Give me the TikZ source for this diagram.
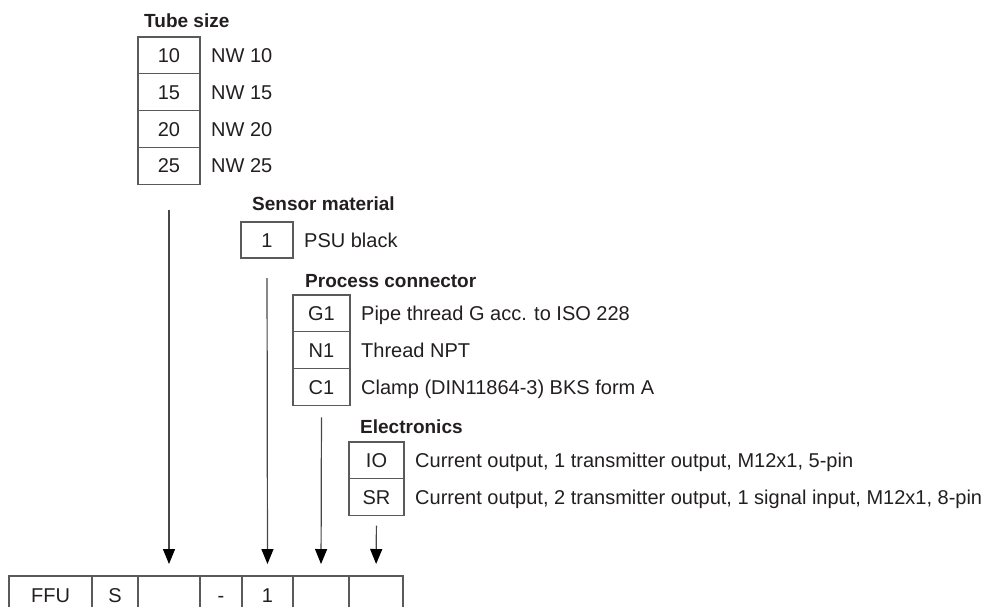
\documentclass[tikz,border=0pt]{standalone}
\usepackage{fontspec}
\setmainfont{Liberation Sans}
\usetikzlibrary{positioning,arrows.meta}
\definecolor{framegray}{HTML}{5A5A5A}
\definecolor{inkdark}{HTML}{231F20}
\tikzset{
	codebox/.style={draw=framegray, line width=1.1pt, inner sep=0pt, outer sep=0pt, minimum height=36.8pt, text height=14pt, text depth=0pt, text=inkdark, font=\fontsize{20}{24}\selectfont},
	optlabel/.style={anchor=west, inner sep=0pt, text height=14pt, text depth=0pt, text=inkdark, font=\fontsize{20}{24}\selectfont},
	heading/.style={anchor=base west, inner sep=0pt, text=inkdark, font=\fontsize{19}{23}\selectfont\bfseries},
	feed/.style={draw=black!72, line width=1.2pt, -{Triangle[length=15pt,width=12pt,color=black]}},
}

\begin{document}
\begin{tikzpicture}[x=1pt, y=-1pt]
			%%%%% START %%%%%
			\clip (0, 0) rectangle (1008, 606);
			
			% tube size
			\node[heading] (headTube) at (144, 27) {Tube size};
			\node[codebox, minimum width=62pt, anchor=north west] (tube1) at (138, 37) {10};
			\node[codebox, minimum width=62pt, below=0pt of tube1] (tube2) {15};
			\node[codebox, minimum width=62pt, below=0pt of tube2] (tube3) {20};
			\node[codebox, minimum width=62pt, below=0pt of tube3] (tube4) {25};
			\node[optlabel, right=11pt of tube1] (tubeText1) {NW 10};
			\node[optlabel, right=11pt of tube2] (tubeText2) {NW 15};
			\node[optlabel, right=11pt of tube3] (tubeText3) {NW 20};
			\node[optlabel, right=11pt of tube4] (tubeText4) {NW 25};
			
			% sensor material
			\node[heading] (headSensor) at (252, 210) {Sensor material};
			\node[codebox, minimum width=52pt, minimum height=36pt, anchor=north west] (sensor1) at (241, 222) {1};
			\node[optlabel, right=11pt of sensor1] (sensorText1) {PSU black};
			
			% process connector
			\node[heading] (headProcess) at (305, 287) {Process connector};
			\node[codebox, minimum width=57pt, anchor=north west] (proc1) at (293, 295) {G1};
			\node[codebox, minimum width=57pt, below=0pt of proc1] (proc2) {N1};
			\node[codebox, minimum width=57pt, below=0pt of proc2] (proc3) {C1};
			\node[optlabel, right=11pt of proc1] (procText1) {Pipe thread G acc. to ISO 228};
			\node[optlabel, right=11pt of proc2] (procText2) {Thread NPT};
			\node[optlabel, right=11pt of proc3] (procText3) {Clamp (DIN11864-3) BKS form A};
			
			% electronics
			\node[heading] (headElec) at (360, 433) {Electronics};
			\node[codebox, minimum width=55pt, anchor=north west] (elec1) at (349, 442) {IO};
			\node[codebox, minimum width=55pt, below=0pt of elec1] (elec2) {SR};
			\node[optlabel, right=11pt of elec1] (elecText1) {Current output, 1 transmitter output, M12x1, 5-pin};
			\node[optlabel, right=11pt of elec2] (elecText2) {Current output, 2 transmitter output, 1 signal input, M12x1, 8-pin};
			
			% type code
			\node[codebox, minimum width=83pt, minimum height=38pt, anchor=north west] (cellFFU) at (9, 576) {FFU};
			\node[codebox, minimum width=46pt, minimum height=38pt, right=0pt of cellFFU] (cellS) {S};
			\node[codebox, minimum width=62pt, minimum height=38pt, right=0pt of cellS] (cellTube) {};
			\node[codebox, minimum width=42pt, minimum height=38pt, right=0pt of cellTube] (cellDash) {-};
			\node[codebox, minimum width=51pt, minimum height=38pt, right=0pt of cellDash] (cellSensor) {1};
			\node[codebox, minimum width=56pt, minimum height=38pt, right=0pt of cellSensor] (cellProc) {};
			\node[codebox, minimum width=54pt, minimum height=38pt, right=0pt of cellProc] (cellElec) {};
			
			\draw[feed, shorten <=26pt, shorten >=12pt] (tube4.south) -- (cellTube.north);
			\draw[feed, shorten <=20pt, shorten >=12pt] (sensor1.south) -- (cellSensor.north);
			\draw[feed, shorten <=12pt, shorten >=12pt] (proc3.south) -- (cellProc.north);
			\draw[feed, shorten <=10pt, shorten >=12pt] (elec2.south) -- (cellElec.north);
			
			%%%%% END %%%%%
\end{tikzpicture}
\end{document}
